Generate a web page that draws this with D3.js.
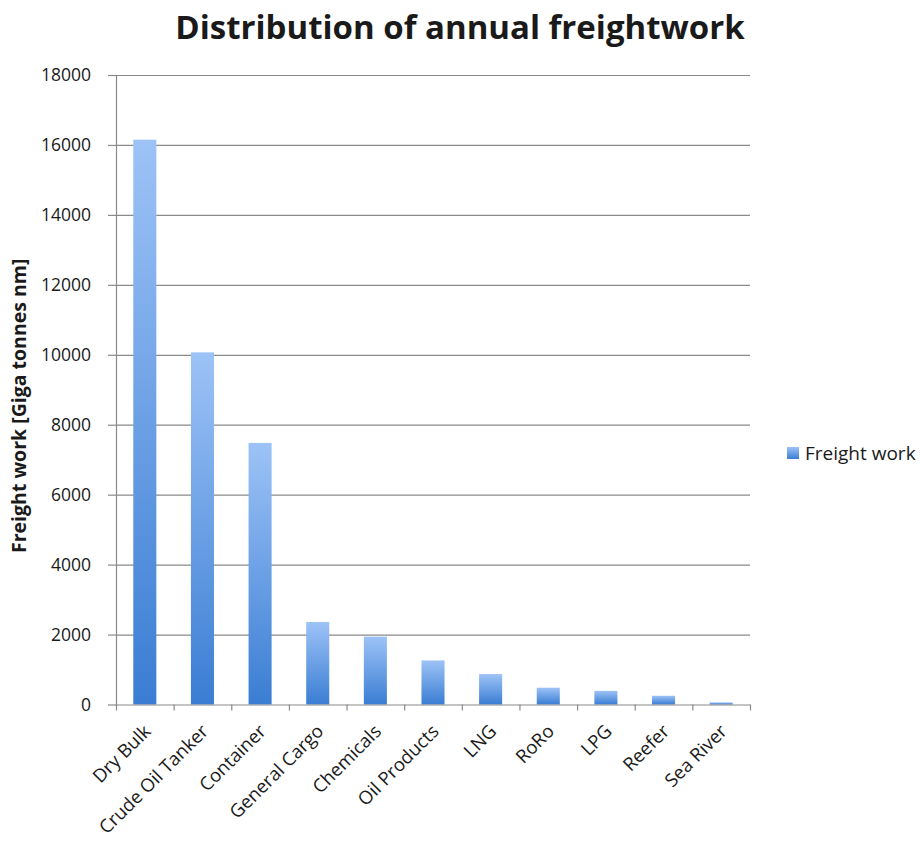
<!DOCTYPE html>
<html>
<head>
<meta charset="utf-8">
<script src="https://cdn.jsdelivr.net/npm/d3@7"></script>
<style>
  html, body { margin: 0; padding: 0; background: #fff; }
  svg text { font-family: "Open Sans", "Liberation Sans", sans-serif; fill: #1a1a1a; }
</style>
</head>
<body>
<svg id="chart" width="922" height="844"></svg>
<script>
// Annual freight work by ship type (Giga tonnes nm)
const categories = ["Dry Bulk", "Crude Oil Tanker", "Container", "General Cargo", "Chemicals",
  "Oil Products", "LNG", "RoRo", "LPG", "Reefer", "Sea River"];
const freightWork = [16150, 10070, 7480, 2360, 1940, 1260, 870, 480, 390, 250, 60];
const yTicks = [0, 2000, 4000, 6000, 8000, 10000, 12000, 14000, 16000, 18000];
const seriesName = "Freight work";
const chartTitle = "Distribution of annual freightwork";
const yTitle = "Freight work [Giga tonnes nm]";

const svg = d3.select("#chart");
const plot = { left: 116, right: 750, top: 75, bottom: 704.5 };

const y = d3.scaleLinear().domain([0, 18000]).range([plot.bottom, plot.top]);
const x = d3.scaleBand().domain(categories).range([plot.left, plot.right])
  .paddingInner(0.6).paddingOuter(0.3);
const bounds = d3.scaleLinear().domain([0, categories.length]).range([plot.left, plot.right]);

// bar fill: light at the top, deeper blue at the base
const defs = svg.append("defs");
const grad = defs.append("linearGradient").attr("id", "barFill")
  .attr("x1", 0).attr("y1", 0).attr("x2", 0).attr("y2", 1);
grad.append("stop").attr("offset", "0%").attr("stop-color", "#9dc3f7");
grad.append("stop").attr("offset", "100%").attr("stop-color", "#3a7dd3");

const gridColor = "#8a8a8a";

// horizontal gridlines
svg.append("g")
  .attr("transform", `translate(${plot.left},0)`)
  .call(d3.axisLeft(y).tickValues(yTicks.filter(d => d > 0)).tickSize(-(plot.right - plot.left)).tickFormat(""))
  .call(g => g.select(".domain").remove())
  .call(g => g.selectAll("line").attr("stroke", gridColor).attr("stroke-width", 1.2));

// bars
svg.append("g").selectAll("rect")
  .data(categories.map((c, i) => ({ c, v: freightWork[i] })))
  .join("rect")
  .attr("x", d => x(d.c))
  .attr("width", x.bandwidth())
  .attr("y", d => y(d.v))
  .attr("height", d => y(0) - y(d.v))
  .attr("fill", "url(#barFill)");

// y axis with labels
svg.append("g")
  .attr("transform", `translate(${plot.left},0)`)
  .call(d3.axisLeft(y).tickValues(yTicks).tickSize(8).tickSizeOuter(0).tickPadding(17).tickFormat(d3.format("d")))
  .call(g => g.select(".domain").attr("stroke", gridColor).attr("stroke-width", 1.2))
  .call(g => g.selectAll("line").attr("stroke", gridColor).attr("stroke-width", 1.2))
  .call(g => g.selectAll("text").attr("font-size", 17.5).attr("font-family", "Open Sans").attr("fill", "#1a1a1a"));

// x axis: baseline with ticks at category boundaries
svg.append("g")
  .attr("transform", `translate(0,${plot.bottom})`)
  .call(d3.axisBottom(bounds).ticks(categories.length).tickSize(6).tickSizeOuter(0).tickFormat(""))
  .call(g => g.select(".domain").attr("stroke", gridColor).attr("stroke-width", 1.2))
  .call(g => g.selectAll("line").attr("stroke", gridColor).attr("stroke-width", 1.2));

// rotated category labels
svg.append("g").selectAll("text")
  .data(categories)
  .join("text")
  .attr("text-anchor", "end")
  .attr("font-size", 18.5)
  .attr("transform", d => `translate(${x(d) + x.bandwidth() / 2 + 7},${plot.bottom + 28}) rotate(-45)`)
  .text(d => d);

// title
svg.append("text")
  .attr("x", 460).attr("y", 39)
  .attr("text-anchor", "middle")
  .attr("font-size", 33)
  .attr("font-weight", "bold")
  .text(chartTitle);

// y axis title
svg.append("text")
  .attr("transform", `translate(26,${(plot.top + plot.bottom) / 2 + 16}) rotate(-90)`)
  .attr("text-anchor", "middle")
  .attr("font-size", 19.5)
  .attr("font-weight", "bold")
  .text(yTitle);

// legend
const legend = svg.append("g").attr("transform", "translate(787,447)");
legend.append("rect").attr("width", 12).attr("height", 12).attr("fill", "url(#barFill)");
legend.append("text").attr("x", 18).attr("y", 13).attr("font-size", 19).text(seriesName);
</script>
</body>
</html>
